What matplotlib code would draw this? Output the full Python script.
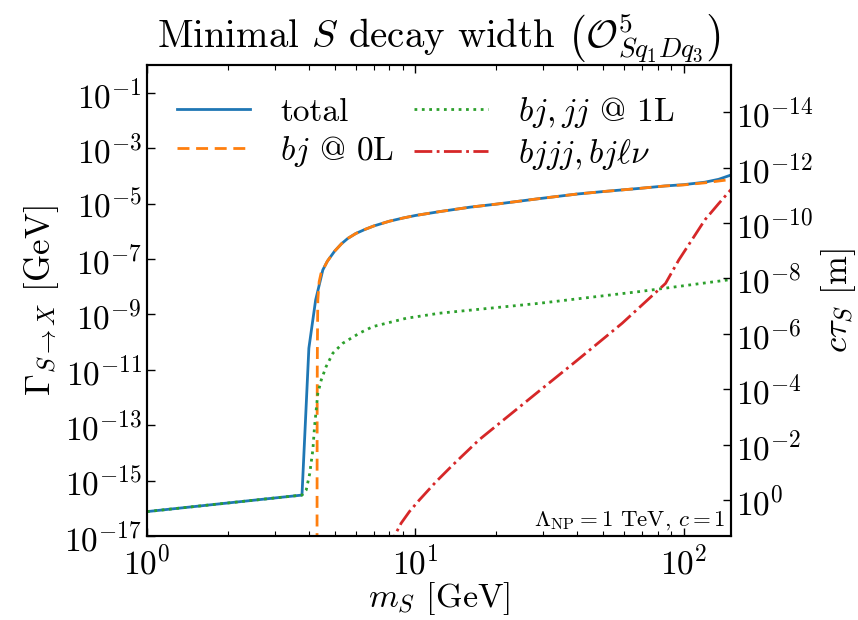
import numpy as np
import matplotlib
matplotlib.use("Agg")
import matplotlib.pyplot as plt
from matplotlib.ticker import FixedLocator, NullLocator, LogFormatterSciNotation

plt.rcParams.update({
    "font.family": "serif",
    "font.serif": ["cmr10"],
    "mathtext.fontset": "cm",
    "axes.formatter.use_mathtext": True,
    "axes.unicode_minus": True,
})

# scalar mass [GeV] and partial widths [GeV]
m_total = [1.0, 3.78, 4.01, 4.25, 4.52, 4.7, 5.0, 5.3, 5.6, 6.0, 6.5, 7.0, 8.0, 9.0,
           10.0, 12.3, 16.0, 20.0, 28.9, 40.0, 50.0, 68.0, 85.0, 100.0, 120.0,
           135.0, 150.0]
w_total = [7.6e-17, 3.0e-16, 6e-11, 3.3e-9, 4.0e-8, 8.3e-8, 1.9e-7, 3.5e-7, 5.5e-7,
           8.3e-7, 1.17e-6, 1.55e-6, 2.3e-6, 3.0e-6, 3.7e-6, 5.1e-6, 7.4e-6, 9.5e-6,
           1.5e-5, 2.2e-5, 2.7e-5, 3.5e-5, 4.3e-5, 4.8e-5, 5.9e-5, 7.5e-5, 1.07e-4]

m_bj0 = [4.300, 4.305, 4.31, 4.315, 4.33, 4.38, 4.45, 4.52, 4.7, 5.0, 5.3, 5.6, 6.0,
         6.5, 7.0, 8.0, 9.0, 10.0, 12.3, 16.0, 20.0, 28.9, 40.0, 50.0, 68.0, 85.0,
         100.0, 120.0, 135.0, 150.0]
w_bj0 = [1e-18, 1e-13, 1e-11, 1e-10, 3.3e-9, 1.5e-8, 3.0e-8, 4.0e-8, 8.3e-8, 1.9e-7,
         3.5e-7, 5.5e-7, 8.3e-7, 1.17e-6, 1.55e-6, 2.3e-6, 3.0e-6, 3.7e-6, 5.1e-6,
         7.4e-6, 9.5e-6, 1.5e-5, 2.2e-5, 2.7e-5, 3.5e-5, 4.3e-5, 4.7e-5, 5.6e-5,
         6.5e-5, 7.4e-5]

m_1L = [1.0, 3.78, 3.92, 4.04, 4.15, 4.21, 4.27, 4.33, 4.46, 4.65, 4.93, 5.37,
        6.19, 6.94, 9.23, 12.3, 28.9, 68.0, 143.0, 150.0]
w_1L = [7.6e-17, 3.0e-16, 4.6e-16, 1.8e-15, 1.3e-14, 8.9e-14, 3.5e-13, 1.4e-12,
        4.3e-12, 1.3e-11, 4.0e-11, 9.1e-11, 2.1e-10, 3.6e-10, 7.2e-10, 1.1e-9,
        2.5e-9, 6.6e-9, 1.7e-8, 1.8e-8]

m_3body = [8.2, 8.36, 8.85, 9.5, 10.35, 11.94, 13.76, 17.3, 28.9, 39.6, 54.1, 59.0,
           85.5, 95.8, 120.0, 135.0, 150.0]
w_3body = [2.5e-18, 1e-17, 2.9e-17, 7.6e-17, 2.0e-16, 9.1e-16, 3.6e-15, 3.0e-14,
           1.7e-12, 2.0e-11, 2.4e-10, 4.8e-10, 1.3e-8, 9.1e-8, 2.6e-6, 1.0e-5, 3.2e-5]

labels = ["total", r"$bj$ @ 0L", r"$bj, jj$ @ 1L", r"$bjjj, bj\ell\nu$"]

HBARC = 1.97327e-16  # GeV m

fig = plt.figure(figsize=(8.58, 6.2), dpi=100)
ax = fig.add_axes([147 / 858, 1 - 536 / 620, (731 - 147) / 858, (536 - 65) / 620])

lw = 2.0
ax.plot(m_total, w_total, color="C0", lw=lw, label=labels[0])
ax.plot(m_bj0, w_bj0, color="C1", lw=lw, ls=(0, (4.3, 2.4)), label=labels[1])
ax.plot(m_1L, w_1L, color="C2", lw=lw, ls=":", label=labels[2])
ax.plot(m_3body, w_3body, color="C3", lw=lw, ls="-.", label=labels[3])

ax.set_xscale("log")
ax.set_yscale("log")
ax.set_xlim(1, 150)
ax.set_ylim(1e-17, 1)
ax.yaxis.set_major_locator(FixedLocator(10.0 ** np.arange(-17, 0, 2)))
ax.yaxis.set_minor_locator(NullLocator())
ax.yaxis.set_major_formatter(LogFormatterSciNotation())

fs = 24
ax.tick_params(which="both", direction="in", top=True, right=False, labelsize=fs)
ax.tick_params(which="major", length=6, width=1)
ax.tick_params(which="minor", length=3.5, width=0.8)
ax.tick_params(axis="x", pad=6)

ax.set_xlabel(r"$m_S$ [GeV]", fontsize=24.5, labelpad=0)
ax.set_ylabel(r"$\Gamma_{S\to X}$ [GeV]", fontsize=25, labelpad=2)
ax.set_title(r"Minimal $S$ decay width $\left(\mathcal{O}^5_{Sq_1Dq_3}\right)$",
             fontsize=28, pad=6)

ax2 = ax.twinx()
ax2.set_yscale("log")
ax2.set_ylim(HBARC / 1e-17, HBARC / 1.0)
ax2.yaxis.set_major_locator(FixedLocator(10.0 ** np.arange(0, -15, -2)))
ax2.yaxis.set_minor_locator(NullLocator())
ax2.yaxis.set_major_formatter(LogFormatterSciNotation())
ax2.tick_params(which="both", direction="in", labelsize=fs)
ax2.tick_params(which="major", length=6, width=1)
ax2.set_ylabel(r"$c\tau_S$ [m]", fontsize=25, labelpad=4)

for a in (ax, ax2):
    for s in a.spines.values():
        s.set_linewidth(1.5)

ax.legend(loc="upper left", ncol=2, frameon=False, fontsize=fs,
          handlelength=2.2, columnspacing=0.6, borderaxespad=0.5,
          handletextpad=0.9, labelspacing=0.2)

ax.text(0.99, 0.008, r"$\Lambda_{\rm NP} = 1$ TeV, $c = 1$", transform=ax.transAxes,
        ha="right", va="bottom", fontsize=16.5)

fig.savefig("out.png", dpi=100)
